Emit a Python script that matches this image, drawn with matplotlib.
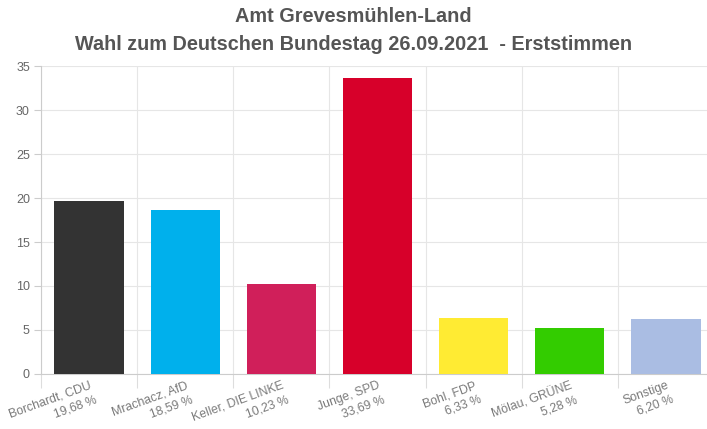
import matplotlib
matplotlib.use("Agg")
import matplotlib.pyplot as plt
import numpy as np

categories = ["Borchardt, CDU", "Mrachacz, AfD", "Keller, DIE LINKE", "Junge, SPD",
              "Bohl, FDP", "Mölau, GRÜNE", "Sonstige"]
values = [19.68, 18.59, 10.23, 33.69, 6.33, 5.28, 6.20]
labels = ["19,68 %", "18,59 %", "10,23 %", "33,69 %", "6,33 %", "5,28 %", "6,20 %"]
colors = ["#333333", "#00b0ec", "#d01f5a", "#d7002a", "#ffeb33", "#33cc00", "#aabde3"]

plt.rcParams['font.family'] = ['Liberation Sans', 'DejaVu Sans']
fig = plt.figure(figsize=(7.07, 4.29), dpi=100)
ax = fig.add_axes([41/707, 1-374/429, 1-41/707 + 0.01, (374-66)/429])

x = np.arange(len(categories))
ax.bar(x, values, width=0.72, color=colors, zorder=3)
ax.set_xlim(-0.5, len(categories) - 0.5)
ax.set_ylim(0, 35)
ax.set_yticks(np.arange(0, 36, 5))
ax.tick_params(axis='y', colors='#666666', labelsize=9, length=5, width=0.8, pad=3)
for t in ax.get_yticklabels():
    t.set_color('#666666')

ax.set_xticks(np.arange(-0.5, len(categories), 1), minor=True)
ax.set_xticks(x)
ax.set_xticklabels([f"{c}\n{l}" for c, l in zip(categories, labels)],
                   rotation=20, ha='right', rotation_mode='anchor',
                   multialignment='right', fontsize=8.8, color='#7a7a7a',
                   linespacing=1.3)
ax.tick_params(axis='x', which='major', length=0, pad=4)
ax.tick_params(axis='x', which='minor', length=10, color='#dddddd', width=0.8)

ax.grid(axis='y', color='#e6e6e6', linewidth=0.8, zorder=0)
ax.grid(axis='x', which='minor', color='#e6e6e6', linewidth=0.8, zorder=0)
ax.grid(axis='x', which='major', visible=False)

for s in ['top', 'right']:
    ax.spines[s].set_visible(False)
ax.spines['left'].set_color('#cccccc')
ax.spines['bottom'].set_color('#cccccc')
ax.tick_params(axis='y', color='#cccccc')

fig.text(0.5, 1-17/429, "Amt Grevesmühlen-Land", ha='center', va='center',
         fontsize=14.3, fontweight='bold', color='#555555')
fig.text(0.5, 1-44/429, "Wahl zum Deutschen Bundestag 26.09.2021  - Erststimmen", ha='center', va='center',
         fontsize=14.3, fontweight='bold', color='#555555')

fig.savefig("out.png", dpi=100)
